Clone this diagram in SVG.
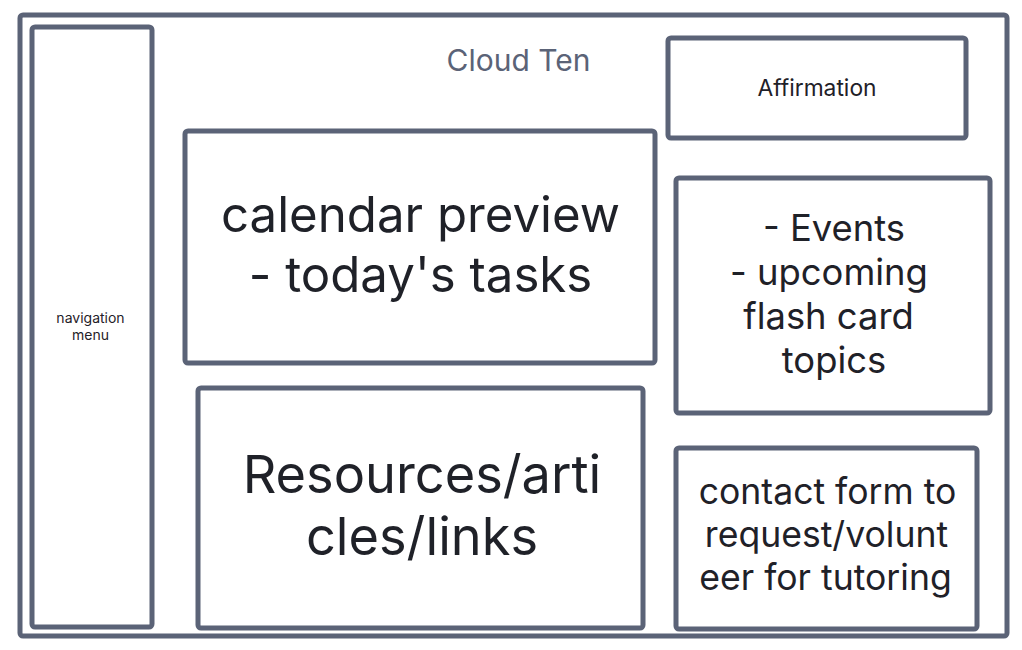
<svg xmlns="http://www.w3.org/2000/svg" width="1022" height="650" viewBox="0 0 1022 650">
<style>
.box{fill:#ffffff;stroke:#5b6377;stroke-width:5;}
.t{font-family:Inter,"Liberation Sans",sans-serif;fill:#1f2128;text-anchor:middle;}
.title{font-family:Inter,"Liberation Sans",sans-serif;fill:#5b6377;text-anchor:middle;font-size:30px;}
</style>
<rect width="1022" height="650" fill="#ffffff"/>
<g id="frame"><rect class="box" x="20" y="15" width="987" height="621" rx="3"/></g>
<g id="title"><text class="title" x="518.5" y="71">Cloud Ten</text></g>
<g id="nav">
<rect class="box" x="32" y="27" width="120" height="600" rx="3"/>
<text class="t" font-size="14" x="90.5" y="323">navigation</text>
<text class="t" font-size="14" x="90.5" y="340">menu</text>
</g>
<g id="affirmation">
<rect class="box" x="668" y="38" width="298" height="100" rx="3"/>
<text class="t" font-size="22.8" x="817" y="95.5">Affirmation</text>
</g>
<g id="calendar">
<rect class="box" x="185" y="131" width="470" height="232" rx="3"/>
<text class="t" font-size="49.2" x="420.5" y="232">calendar preview</text>
<text class="t" font-size="49.2" x="420.5" y="292">- today's tasks</text>
</g>
<g id="events">
<rect class="box" x="676" y="178" width="314" height="235" rx="3"/>
<text class="t" font-size="36.4" x="834" y="241">- Events</text>
<text class="t" font-size="36.4" x="829" y="285">- upcoming</text>
<text class="t" font-size="36.4" x="828.5" y="329">flash card</text>
<text class="t" font-size="36.4" x="834" y="373">topics</text>
</g>
<g id="resources">
<rect class="box" x="198" y="388" width="445" height="240" rx="3"/>
<text class="t" font-size="52.3" x="422" y="493">Resources/arti</text>
<text class="t" font-size="52.3" x="422" y="555">cles/links</text>
</g>
<g id="contact">
<rect class="box" x="676" y="448" width="301" height="181" rx="3"/>
<text class="t" font-size="35.6" x="827.5" y="504">contact form to</text>
<text class="t" font-size="35.6" x="826.5" y="547">request/volunt</text>
<text class="t" font-size="35.6" x="825.5" y="590">eer for tutoring</text>
</g>
<g id="connectors"></g>
</svg>
